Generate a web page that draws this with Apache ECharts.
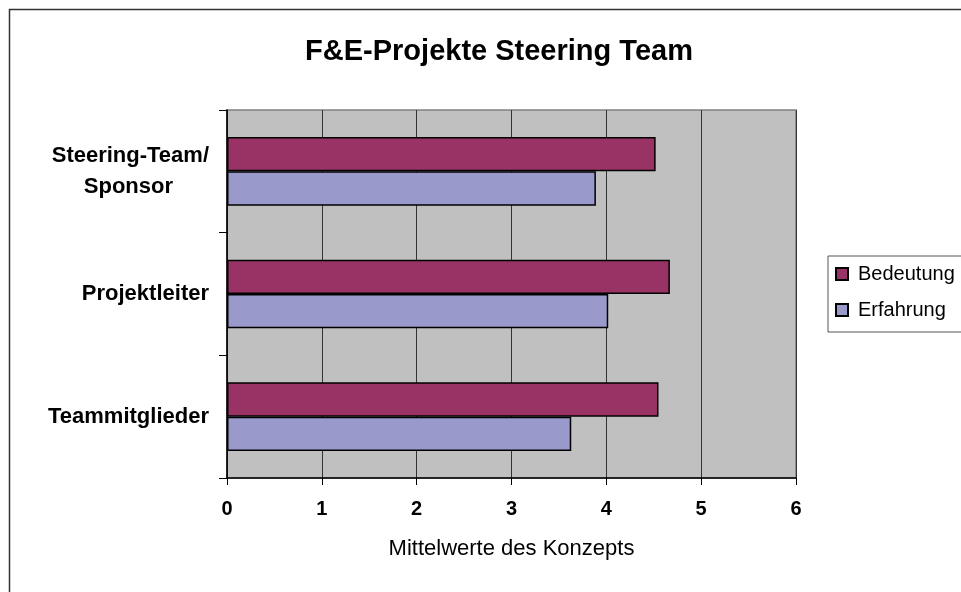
<!DOCTYPE html>
<html>
<head>
<meta charset="utf-8">
<script src="https://cdn.jsdelivr.net/npm/echarts@6/dist/echarts.min.js"></script>
<style>
  html, body { margin: 0; padding: 0; background: #fff; }
  #main { width: 961px; height: 592px; }
</style>
</head>
<body>
<div id="main"></div>
<script>
// categories bottom -> top (category axis runs upward)
const categories = ['Teammitglieder', 'Projektleiter', 'Steering-Team/\nSponsor'];
const bedeutung = [4.55, 4.67, 4.52];
const erfahrung = [3.63, 4.02, 3.89];
const xTicks = [0, 1, 2, 3, 4, 5, 6];

const font = 'Liberation Sans, Arial, sans-serif';
const chart = echarts.init(document.getElementById('main'), null, { renderer: 'canvas' });

chart.setOption({
  animation: false,
  backgroundColor: '#fff',
  title: {
    text: 'F&E-Projekte Steering Team',
    left: 494,
    top: 32,
    textAlign: 'center',
    textStyle: { fontFamily: font, fontSize: 29, fontWeight: 'bold', color: '#000' }
  },
  graphic: [{
    type: 'rect',
    shape: { x: 9.5, y: 9.5, width: 1000, height: 1000 },
    style: { fill: 'none', stroke: '#333', lineWidth: 1.5 },
    silent: true
  }],
  legend: {
    data: ['Bedeutung', 'Erfahrung'],
    orient: 'vertical',
    left: 828,
    top: 256,
    padding: [8, 40, 12, 7],
    itemGap: 16,
    itemWidth: 12,
    itemHeight: 12,
    borderColor: '#555',
    borderWidth: 1,
    icon: 'rect',
    textStyle: { fontFamily: font, fontSize: 20, color: '#000', padding: [0, 0, 0, 5] }
  },
  grid: {
    left: 227, right: 165, top: 110, bottom: 114,
    show: true,
    backgroundColor: '#C0C0C0',
    borderColor: '#808080',
    borderWidth: 1.5
  },
  xAxis: {
    type: 'value',
    min: 0, max: 6, interval: 1,
    name: 'Mittelwerte des Konzepts',
    nameLocation: 'middle',
    nameGap: 60,
    nameTextStyle: { fontFamily: font, fontSize: 22, color: '#000' },
    axisLine: { show: true, lineStyle: { color: '#000', width: 1.5 } },
    axisTick: { show: true, length: 7, lineStyle: { color: '#000' } },
    axisLabel: {
      margin: 21,
      fontFamily: font, fontSize: 20, fontWeight: 'bold', color: '#000',
      formatter: v => xTicks.includes(v) ? String(v) : ''
    },
    splitLine: { show: true, lineStyle: { color: '#333', width: 1 } }
  },
  yAxis: {
    type: 'category',
    data: categories,
    axisLine: { show: true, lineStyle: { color: '#000', width: 1.5 } },
    axisTick: { show: true, length: 8, alignWithLabel: false, lineStyle: { color: '#000' } },
    axisLabel: {
      margin: 18,
      fontFamily: font, fontSize: 22, fontWeight: 'bold', color: '#000',
      lineHeight: 31,
      formatter: v => {
        const parts = v.split('\n');
        if (parts.length === 2) return '{a|' + parts[0] + '}\n{b|' + parts[1] + '}';
        return v;
      },
      rich: {
        a: { fontFamily: font, fontSize: 22, fontWeight: 'bold', color: '#000', lineHeight: 31 },
        b: { fontFamily: font, fontSize: 22, fontWeight: 'bold', color: '#000', lineHeight: 31, padding: [0, 36, 0, 0] }
      }
    },
    splitLine: { show: false }
  },
  series: [
    {
      name: 'Bedeutung',
      type: 'bar',
      data: bedeutung,
      barGap: '0%',
      barCategoryGap: '44%',
      itemStyle: { color: '#993366', borderColor: '#000', borderWidth: 1.5 }
    },
    {
      name: 'Erfahrung',
      type: 'bar',
      data: erfahrung,
      barGap: '0%',
      barCategoryGap: '44%',
      itemStyle: { color: '#9999CC', borderColor: '#000', borderWidth: 1.5 }
    }
  ]
});
</script>
</body>
</html>
